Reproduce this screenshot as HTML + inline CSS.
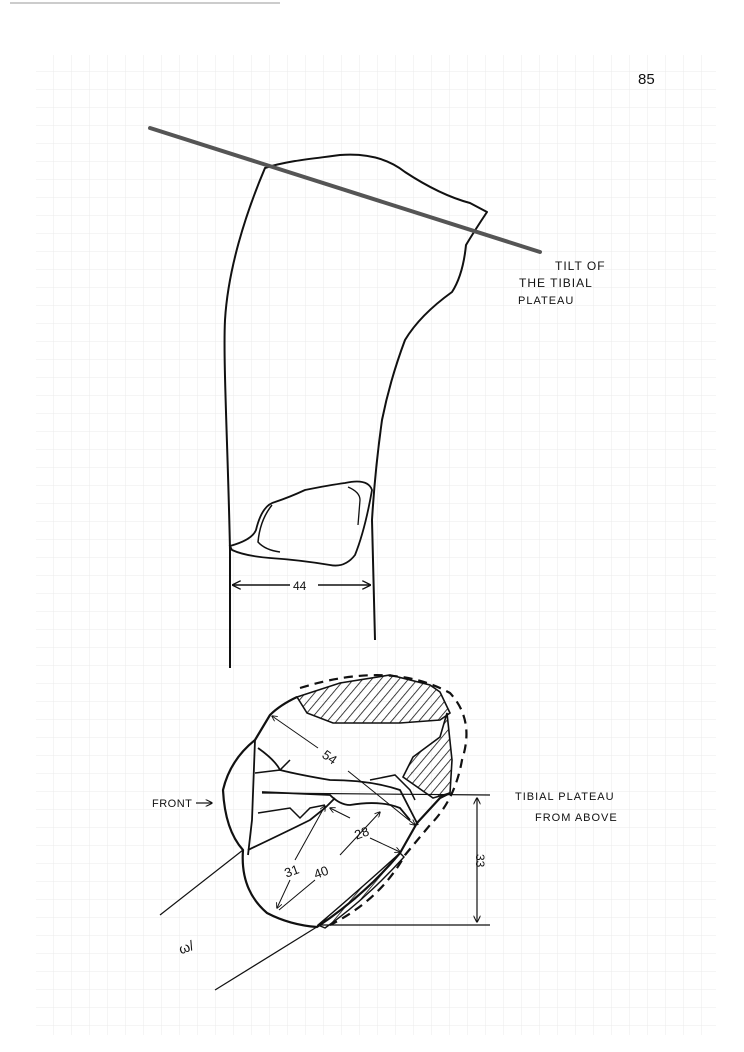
<!DOCTYPE html>
<html><head><meta charset="utf-8"><style>
html,body{margin:0;padding:0;background:#fff;}
svg{display:block;}
text{font-family:"Liberation Sans",sans-serif;fill:#111;}
</style></head><body>
<svg width="744" height="1052" viewBox="0 0 744 1052" xmlns="http://www.w3.org/2000/svg">
<defs>
<pattern id="grid" width="18" height="18" patternUnits="userSpaceOnUse" x="0" y="0">
<path d="M18 0V18M0 18H18" stroke="#ebebeb" stroke-width="1" fill="none"/>
</pattern>
<pattern id="hatch" width="7" height="7" patternUnits="userSpaceOnUse" patternTransform="rotate(40)">
<line x1="0" y1="0" x2="0" y2="7" stroke="#111" stroke-width="1.6"/>
</pattern>
<marker id="ar" viewBox="0 0 10 10" refX="9" refY="5" markerWidth="6" markerHeight="6" orient="auto-start-reverse"><path d="M0 0L10 5L0 10" fill="none" stroke="#111" stroke-width="1.5"/></marker>
</defs>
<rect x="36" y="55" width="680" height="980" fill="url(#grid)"/>
<line x1="10" y1="3" x2="280" y2="3" stroke="#bbb" stroke-width="1.5"/>
<text x="638" y="84" font-size="15">85</text>

<!-- bone -->
<path d="M230 668 L230 550 C228 450 223 360 225 320 C228 270 245 215 265 168 C290 160 320 158 340 155 Q380 152 405 172 Q440 195 470 203 L487 212 Q475 230 466 245 Q463 275 452 292 Q420 315 405 340 Q390 380 382 420 Q375 470 372 520 L375 640" fill="none" stroke="#111" stroke-width="2" stroke-linejoin="round"/>
<line x1="150" y1="128" x2="540" y2="252" stroke="#555" stroke-width="4" stroke-linecap="round"/>
<text x="555" y="270" font-size="12" letter-spacing="1">TILT OF</text>
<text x="519" y="287" font-size="12" letter-spacing="1">THE TIBIAL</text>
<text x="518" y="304" font-size="11" letter-spacing="1">PLATEAU</text>

<!-- lesion -->
<path d="M230 546 Q252 540 256 530 Q262 505 275 502 Q290 497 305 490 Q330 485 345 483 Q368 478 372 490 Q365 530 355 555 Q345 568 330 565 Q300 560 270 558 Q245 556 232 550 Z" fill="none" stroke="#111" stroke-width="1.8"/>
<path d="M272 505 Q260 520 258 542 Q265 550 280 552" fill="none" stroke="#111" stroke-width="1.5"/>
<path d="M348 487 Q360 492 360 500 L358 525" fill="none" stroke="#111" stroke-width="1.3"/>
<line x1="233" y1="585" x2="290" y2="585" stroke="#111" stroke-width="1.5" marker-start="url(#ar)"/>
<line x1="318" y1="585" x2="370" y2="585" stroke="#111" stroke-width="1.5" marker-end="url(#ar)"/>
<text x="293" y="590" font-size="12">44</text>

<!-- plateau from above -->
<path d="M297 697 L340 683 L390 675 L430 685 L440 692 L450 713 L440 720 L400 723 L333 723 L307 713 Z" fill="url(#hatch)" stroke="#111" stroke-width="1.6"/>
<path d="M447 713 L452 760 L450 793 L433 798 L403 777 L413 757 L440 737 Z" fill="url(#hatch)" stroke="#111" stroke-width="1.6"/>
<path d="M318 925 Q350 898 400 853 L404 857 Q365 900 325 928 Z" fill="url(#hatch)" stroke="#111" stroke-width="1.4"/>
<path d="M300 688 Q390 660 450 693 Q475 720 462 760 Q455 800 430 825 L405 855 Q380 900 330 925" fill="none" stroke="#111" stroke-width="2.2" stroke-dasharray="9,6"/>
<path d="M297 697 Q280 705 270 715 L255 740 Q230 760 223 790 Q225 830 243 850 Q240 890 267 913 Q290 925 317 927 Q365 895 400 853 L417 823 L440 798 L450 793" fill="none" stroke="#111" stroke-width="2.2" stroke-linejoin="round"/>
<path d="M255 740 L252 820 L248 855" fill="none" stroke="#111" stroke-width="1.8"/>
<path d="M258 748 Q275 760 280 770 Q300 775 330 780 Q370 780 400 790 L418 825" fill="none" stroke="#111" stroke-width="1.8"/>
<path d="M255 773 L280 770 L290 760" fill="none" stroke="#111" stroke-width="1.5"/>
<path d="M262 792 L330 795 Q340 805 350 805 Q380 800 400 808 L410 820" fill="none" stroke="#111" stroke-width="1.8"/>
<path d="M258 813 L290 808 L300 818 L310 808 L325 805" fill="none" stroke="#111" stroke-width="1.5"/>
<path d="M248 850 Q290 830 310 820 L325 808 L335 798" fill="none" stroke="#111" stroke-width="1.8"/>
<path d="M370 780 L395 775 L410 790 L415 800" fill="none" stroke="#111" stroke-width="1.5"/>
<line x1="262" y1="793" x2="490" y2="795" stroke="#111" stroke-width="1.2"/>
<line x1="320" y1="925" x2="490" y2="925" stroke="#111" stroke-width="1.2"/>
<line x1="477" y1="798" x2="477" y2="922" stroke="#111" stroke-width="1.2" marker-start="url(#ar)" marker-end="url(#ar)"/>
<text x="472" y="862" font-size="12" transform="rotate(90 478 860)">33</text>
<line x1="272" y1="716" x2="318" y2="748" stroke="#111" stroke-width="1" marker-start="url(#ar)"/>
<line x1="348" y1="771" x2="415" y2="825" stroke="#111" stroke-width="1" marker-end="url(#ar)"/>
<text x="322" y="762" font-size="13" transform="rotate(35 330 758)">54</text>
<line x1="325" y1="806" x2="295" y2="860" stroke="#111" stroke-width="1" marker-start="url(#ar)"/>
<line x1="290" y1="880" x2="277" y2="908" stroke="#111" stroke-width="1" marker-end="url(#ar)"/>
<line x1="380" y1="812" x2="340" y2="855" stroke="#111" stroke-width="1" marker-start="url(#ar)"/>
<line x1="315" y1="880" x2="279" y2="910" stroke="#111" stroke-width="1"/>
<line x1="330" y1="808" x2="350" y2="818" stroke="#111" stroke-width="1" marker-start="url(#ar)"/>
<line x1="370" y1="838" x2="400" y2="852" stroke="#111" stroke-width="1" marker-end="url(#ar)"/>
<text x="284" y="876" font-size="13" transform="rotate(-20 290 870)">31</text>
<text x="313" y="877" font-size="13" transform="rotate(-20 320 870)">40</text>
<text x="354" y="838" font-size="13" transform="rotate(-20 360 832)">28</text>
<line x1="243" y1="850" x2="160" y2="915" stroke="#111" stroke-width="1.2"/>
<line x1="320" y1="925" x2="215" y2="990" stroke="#111" stroke-width="1.2"/>
<text x="178" y="952" font-size="14" transform="rotate(-20 186 945)">ω/</text>
<text x="152" y="807" font-size="11" letter-spacing="0.5">FRONT</text>
<line x1="196" y1="803" x2="212" y2="803" stroke="#111" stroke-width="1.2" marker-end="url(#ar)"/>
<text x="515" y="800" font-size="11" letter-spacing="1">TIBIAL PLATEAU</text>
<text x="535" y="821" font-size="11" letter-spacing="1">FROM ABOVE</text>
</svg>
</body></html>
